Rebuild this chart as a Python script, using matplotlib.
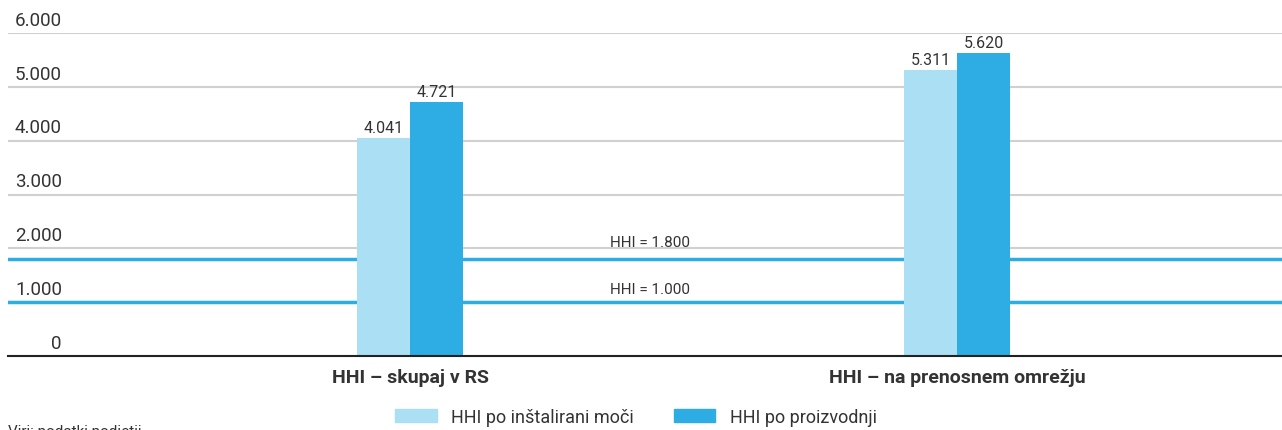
import matplotlib.pyplot as plt
from matplotlib.patches import Patch

# Data
categories = ['HHI – skupaj v RS', 'HHI – na prenosnem omrežju']
series_names = ['HHI po inštalirani moči', 'HHI po proizvodnji']
installed = [4041, 5311]
production = [4721, 5620]
thresholds = [1800, 1000]
threshold_labels = ['HHI = 1.800', 'HHI = 1.000']
yticks = [0, 1000, 2000, 3000, 4000, 5000, 6000]
ytick_labels = ['0', '1.000', '2.000', '3.000', '4.000', '5.000', '6.000']
source_text = 'Viri: podatki podjetij'

light = '#ABDFF4'
dark = '#2EADE4'
grid_col = '#D0D0D0'
text_col = '#333333'

plt.rcParams['font.family'] = ['Roboto', 'DejaVu Sans']

W, H = 1282, 431
fig = plt.figure(figsize=(W / 100, H / 100), dpi=100)
ax = fig.add_axes([8 / W, (H - 357) / H, 1 - 8 / W, (357 - 34) / H])

x = [0, 1]
bw = 0.097
ax.bar([i - bw / 2 for i in x], installed, bw, color=light, zorder=3)
ax.bar([i + bw / 2 for i in x], production, bw, color=dark, zorder=3)

for i, v in zip(x, installed):
    ax.text(i - bw / 2, v + 60, f'{v:,}'.replace(',', '.'), ha='center', va='bottom',
            fontsize=11.5, color=text_col)
for i, v in zip(x, production):
    ax.text(i + bw / 2, v + 60, f'{v:,}'.replace(',', '.'), ha='center', va='bottom',
            fontsize=11.5, color=text_col)

# gridlines
for t in yticks[1:]:
    ax.axhline(t, color=grid_col, lw=1.5, zorder=1)

# threshold lines
for t, lab in zip(thresholds, threshold_labels):
    ax.axhline(t, color=dark, lw=2.5, zorder=2)
    ax.text(0.4386, t + 180 if t > 1500 else t + 120, lab, ha='center', va='bottom',
            fontsize=11, color=text_col)

ax.set_xlim(-0.735, 1.594)
ax.set_ylim(0, 6000)

for s in ['top', 'right', 'left']:
    ax.spines[s].set_visible(False)
ax.spines['bottom'].set_color('#222222')
ax.spines['bottom'].set_linewidth(1.5)
ax.spines['bottom'].set_zorder(4)

ax.set_yticks([])
for t, lab in zip(yticks, ytick_labels):
    ax.text(54 / (W - 8), t + 80, lab, transform=ax.get_yaxis_transform(),
            ha='right', va='bottom', fontsize=13.5, color=text_col)

ax.set_xticks(x)
ax.set_xticklabels(categories, fontsize=14, fontweight='bold', color=text_col)
ax.tick_params(axis='x', length=0, pad=9)

handles = [Patch(color=light, label=series_names[0]), Patch(color=dark, label=series_names[1])]
fig.legend(handles=handles, loc='center', bbox_to_anchor=(636 / W, 1 - 418 / H), ncol=2,
           frameon=False, fontsize=13, handlelength=2.3, handleheight=0.75,
           columnspacing=2.2, handletextpad=0.8, labelcolor=text_col)

fig.text(8 / W, 1 - 432 / H, source_text, ha='left', va='center', fontsize=11, color=text_col)

fig.savefig('out.png', dpi=100)
